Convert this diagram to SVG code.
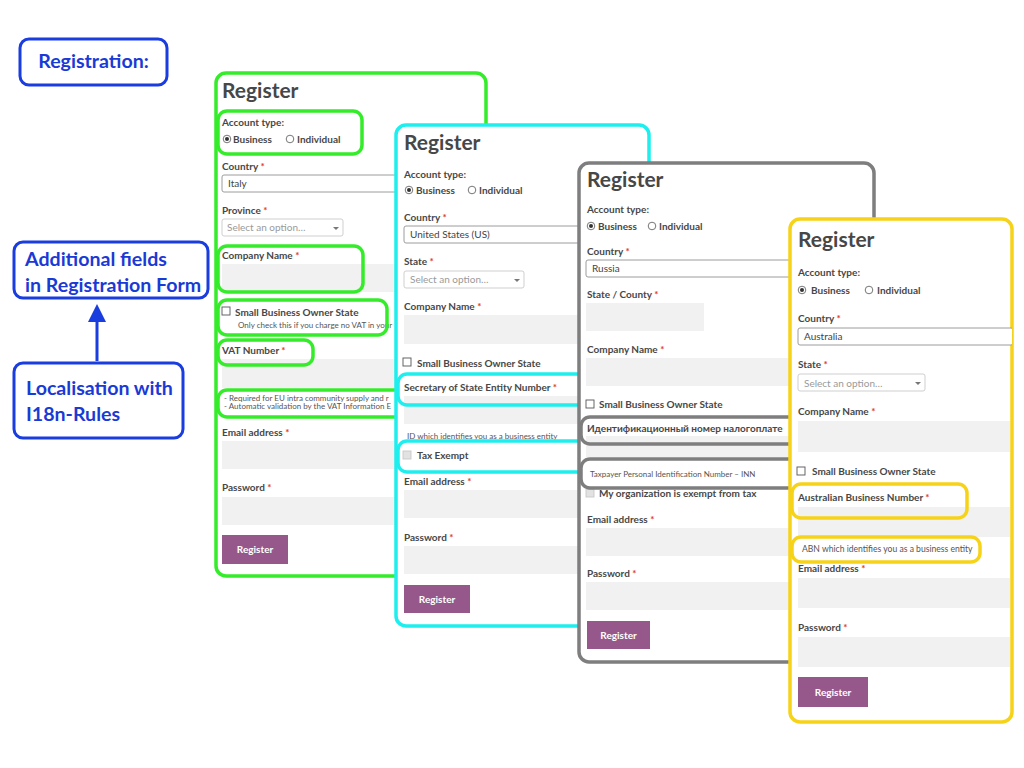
<svg xmlns="http://www.w3.org/2000/svg" width="1024" height="768" viewBox="0 0 1024 768">
<defs>
<style>
text{font-family:Lato,"Noto Sans","DejaVu Sans",sans-serif}
.h{font-size:21px;font-weight:bold;fill:#474747}
.l{font-size:10px;font-weight:bold;fill:#474747}
.v{font-size:10px;fill:#444}
.ph{font-size:10px;fill:#9a9a9a}
.s{font-size:8px;fill:#555}
.a{fill:#e23a2a}
.in{fill:#fff;stroke:#9c9c9c;stroke-width:1}
.sel{fill:#fff;stroke:#cfcfcf;stroke-width:1}
.f{fill:#f1f1f1}
.cb{fill:#fff;stroke:#555;stroke-width:0.9}
.cbg{fill:#e2e2e2;stroke:#c8c8c8;stroke-width:0.9}
.rd{fill:#fff;stroke:#666;stroke-width:0.9}
.dot{fill:#333}
.btn{fill:#96588a}
.bt{font-size:10px;font-weight:bold;fill:#fff}
.pnl{fill:#fff;stroke-width:3.5}
.hl{fill:none;stroke-width:3.5}
.gr{stroke:#35ec2a}
.cy{stroke:#1eeeee}
.gy{stroke:#7e7e7e}
.ye{stroke:#f6d218}
.bx{fill:#fff;stroke:#1a3ddf;stroke-width:3}
.bl{font-size:19.6px;font-weight:bold;fill:#1a3ad6}
</style>
<clipPath id="cg"><rect x="216" y="73" width="270" height="503" rx="10"/></clipPath>
<clipPath id="cc"><rect x="396" y="125" width="253" height="501" rx="10"/></clipPath>
<clipPath id="cy2"><rect x="579" y="163" width="295" height="499" rx="10"/></clipPath>
<clipPath id="cw"><rect x="790" y="219" width="222" height="503" rx="10"/></clipPath>
</defs>
<rect width="1024" height="768" fill="#fff"/>

<g id="registration-label">
<rect class="bx" x="20" y="39" width="147" height="46" rx="9"/>
<text class="bl" x="93.5" y="68" text-anchor="middle">Registration:</text>
</g>

<g id="additional-fields">
<rect class="bx" x="14" y="242" width="194" height="56" rx="9"/>
<text class="bl" x="25" y="266">Additional fields</text>
<text class="bl" x="25" y="292">in Registration Form</text>
</g>

<g id="localisation">
<rect class="bx" x="14" y="363" width="169" height="75" rx="9"/>
<text class="bl" x="26" y="395">Localisation with</text>
<text class="bl" x="26" y="421">I18n-Rules</text>
</g>

<g id="connectors">
<line x1="97" y1="361" x2="97" y2="318" stroke="#1a3ddf" stroke-width="3"/>
<polygon points="97,304 88,322 106,322" fill="#1a3ddf"/>
</g>

<g id="form-italy">
<rect class="pnl gr" x="216" y="73" width="270" height="503" rx="10"/>
<g clip-path="url(#cg)">
<text class="h" x="222" y="98">Register</text>
<text class="l" x="222" y="126">Account type:</text>
<circle class="rd" cx="227" cy="139" r="3.8"/><circle class="dot" cx="227" cy="139" r="2"/>
<text class="l" x="233" y="142.5">Business</text>
<circle class="rd" cx="290" cy="139" r="3.8"/>
<text class="l" x="297" y="142.5">Individual</text>
<text class="l" x="222" y="170">Country <tspan class="a">*</tspan></text>
<rect class="in" x="222" y="175" width="260" height="17" rx="2"/>
<text class="v" x="228" y="187">Italy</text>
<text class="l" x="222" y="214">Province <tspan class="a">*</tspan></text>
<rect class="sel" x="222" y="219" width="121" height="17" rx="2"/>
<text class="ph" x="227" y="231">Select an option…</text>
<polygon points="333,227 339,227 336,230" fill="#777"/>
<text class="l" x="222" y="259">Company Name <tspan class="a">*</tspan></text>
<rect class="f" x="222" y="264" width="260" height="28"/>
<rect class="cb" x="222" y="307" width="8" height="8"/>
<text class="l" x="235" y="316">Small Business Owner State</text>
<text class="s" x="238" y="328">Only check this if you charge no VAT in your</text>
<text class="l" x="222" y="354">VAT Number <tspan class="a">*</tspan></text>
<rect class="f" x="222" y="359" width="260" height="29"/>
<text class="s" x="224" y="401">- Required for EU intra community supply and r</text>
<text class="s" x="224" y="409">- Automatic validation by the VAT Information E</text>
<text class="l" x="222" y="436">Email address <tspan class="a">*</tspan></text>
<rect class="f" x="222" y="441" width="260" height="28"/>
<text class="l" x="222" y="491">Password <tspan class="a">*</tspan></text>
<rect class="f" x="222" y="497" width="260" height="28"/>
<rect class="btn" x="222" y="535" width="66" height="29"/>
<text class="bt" x="255" y="553" text-anchor="middle">Register</text>
</g>
<rect class="hl gr" x="218" y="111" width="144" height="43" rx="9"/>
<rect class="hl gr" x="218" y="246" width="145" height="46" rx="9"/>
<rect class="hl gr" x="218" y="300" width="169" height="35" rx="9"/>
<rect class="hl gr" x="218" y="340" width="95" height="25" rx="9"/>
<rect class="hl gr" x="218" y="390" width="260" height="27" rx="9"/>
</g>

<g id="form-us">
<rect class="pnl cy" x="396" y="125" width="253" height="501" rx="10"/>
<g clip-path="url(#cc)">
<text class="h" x="404" y="150">Register</text>
<text class="l" x="404" y="178">Account type:</text>
<circle class="rd" cx="409" cy="190" r="3.8"/><circle class="dot" cx="409" cy="190" r="2"/>
<text class="l" x="416" y="193.5">Business</text>
<circle class="rd" cx="472" cy="190" r="3.8"/>
<text class="l" x="479" y="193.5">Individual</text>
<text class="l" x="404" y="221">Country <tspan class="a">*</tspan></text>
<rect class="in" x="404" y="226" width="240" height="17" rx="2"/>
<text class="v" x="410" y="238">United States (US)</text>
<text class="l" x="404" y="265">State <tspan class="a">*</tspan></text>
<rect class="sel" x="404" y="271" width="120" height="17" rx="2"/>
<text class="ph" x="410" y="283">Select an option…</text>
<polygon points="514,279 520,279 517,282" fill="#777"/>
<text class="l" x="404" y="310">Company Name <tspan class="a">*</tspan></text>
<rect class="f" x="404" y="315" width="240" height="29"/>
<rect class="cb" x="403" y="358" width="8" height="8"/>
<text class="l" x="417" y="367">Small Business Owner State</text>
<text class="l" x="404" y="391">Secretary of State Entity Number <tspan class="a">*</tspan></text>
<rect class="f" x="404" y="396" width="240" height="28"/>
<text class="s" x="407" y="439">ID which identifies you as a business entity</text>
<rect class="cbg" x="403" y="451" width="8" height="8"/>
<text class="l" x="417" y="459">Tax Exempt</text>
<text class="l" x="404" y="485">Email address <tspan class="a">*</tspan></text>
<rect class="f" x="404" y="490" width="240" height="28"/>
<text class="l" x="404" y="541">Password <tspan class="a">*</tspan></text>
<rect class="f" x="404" y="546" width="240" height="28"/>
<rect class="btn" x="404" y="585" width="66" height="28"/>
<text class="bt" x="437" y="603" text-anchor="middle">Register</text>
</g>
<rect class="hl cy" x="398" y="374" width="200" height="31" rx="9"/>
<rect class="hl cy" x="398" y="441" width="200" height="31" rx="9"/>
</g>

<g id="form-russia">
<rect class="pnl gy" x="579" y="163" width="295" height="499" rx="10"/>
<g clip-path="url(#cy2)">
<text class="h" x="587" y="187">Register</text>
<text class="l" x="587" y="213">Account type:</text>
<circle class="rd" cx="591" cy="226" r="3.8"/><circle class="dot" cx="591" cy="226" r="2"/>
<text class="l" x="598" y="229.5">Business</text>
<circle class="rd" cx="652" cy="226" r="3.8"/>
<text class="l" x="659" y="229.5">Individual</text>
<text class="l" x="587" y="255">Country <tspan class="a">*</tspan></text>
<rect class="in" x="586" y="260" width="280" height="17" rx="2"/>
<text class="v" x="592" y="272">Russia</text>
<text class="l" x="587" y="298">State / County <tspan class="a">*</tspan></text>
<rect class="f" x="586" y="303" width="118" height="28"/>
<text class="l" x="587" y="353">Company Name <tspan class="a">*</tspan></text>
<rect class="f" x="586" y="358" width="280" height="28"/>
<rect class="cb" x="586" y="400" width="8" height="8"/>
<text class="l" x="599" y="408">Small Business Owner State</text>
<rect class="f" x="586" y="436" width="280" height="21"/>
<text class="l" x="587" y="432">Идентификационный номер налогоплате</text>
<text class="s" x="590" y="477">Taxpayer Personal Identification Number – INN</text>
<rect class="cbg" x="586" y="489" width="8" height="8"/>
<text class="l" x="599" y="497">My organization is exempt from tax</text>
<text class="l" x="587" y="523">Email address <tspan class="a">*</tspan></text>
<rect class="f" x="586" y="528" width="280" height="28"/>
<text class="l" x="587" y="577">Password <tspan class="a">*</tspan></text>
<rect class="f" x="586" y="582" width="280" height="28"/>
<rect class="btn" x="587" y="621" width="63" height="28"/>
<text class="bt" x="618.5" y="639" text-anchor="middle">Register</text>
</g>
<rect class="hl gy" x="581" y="417" width="220" height="27" rx="9"/>
<rect class="hl gy" x="581" y="459" width="220" height="29" rx="9"/>
</g>

<g id="form-australia">
<rect class="pnl ye" x="790" y="219" width="222" height="503" rx="10"/>
<g clip-path="url(#cw)">
<text class="h" x="798" y="247">Register</text>
<text class="l" x="798" y="276">Account type:</text>
<circle class="rd" cx="802" cy="290" r="3.8"/><circle class="dot" cx="802" cy="290" r="2"/>
<text class="l" x="811" y="293.5">Business</text>
<circle class="rd" cx="869" cy="290" r="3.8"/>
<text class="l" x="877" y="293.5">Individual</text>
<text class="l" x="798" y="322">Country <tspan class="a">*</tspan></text>
<rect class="in" x="798" y="328" width="215" height="17" rx="2"/>
<text class="v" x="804" y="340">Australia</text>
<text class="l" x="798" y="368">State <tspan class="a">*</tspan></text>
<rect class="sel" x="798" y="374" width="127" height="17" rx="2"/>
<text class="ph" x="804" y="387">Select an option…</text>
<polygon points="915,382 921,382 918,385" fill="#777"/>
<text class="l" x="798" y="415">Company Name <tspan class="a">*</tspan></text>
<rect class="f" x="798" y="421" width="212" height="31"/>
<rect class="cb" x="797" y="467" width="8" height="8"/>
<text class="l" x="812" y="475">Small Business Owner State</text>
<text class="l" x="798" y="501">Australian Business Number <tspan class="a">*</tspan></text>
<rect class="f" x="798" y="507" width="212" height="30"/>
<text class="s" x="802" y="552" style="font-size:8.6px">ABN which identifies you as a business entity</text>
<text class="l" x="798" y="572">Email address <tspan class="a">*</tspan></text>
<rect class="f" x="798" y="578" width="212" height="30"/>
<text class="l" x="798" y="631">Password <tspan class="a">*</tspan></text>
<rect class="f" x="798" y="637" width="212" height="30"/>
<rect class="btn" x="798" y="677" width="70" height="30"/>
<text class="bt" x="833" y="696" text-anchor="middle">Register</text>
</g>
<rect class="hl ye" x="792" y="484" width="175" height="34" rx="9"/>
<rect class="hl ye" x="792" y="537" width="188" height="25" rx="9"/>
</g>
</svg>
